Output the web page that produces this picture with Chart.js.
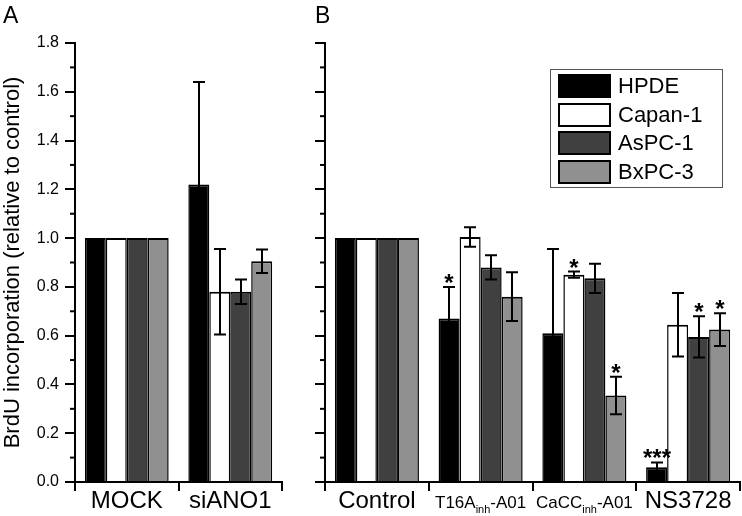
<!DOCTYPE html>
<html>
<head>
<meta charset="utf-8">
<script src="https://cdn.jsdelivr.net/npm/chart.js@4.4.0/dist/chart.umd.min.js"></script>
<style>
body{margin:0;background:#fff;font-family:'Liberation Sans',Arial,sans-serif}
#wrap{position:relative;width:742px;height:516px;overflow:hidden;background:#fff}
#cvA{position:absolute;left:0;top:0}
#cvB{position:absolute;left:300px;top:0}
.legend{position:absolute;left:550px;top:69px;width:173px;height:119px;border:1px solid #555;box-sizing:border-box}
.legend .row{position:absolute;left:7px;height:24px;display:flex;align-items:center}
.legend .sw{width:53px;height:24px;border:2px solid #000;box-sizing:border-box}
.legend .lb{margin-left:7px;font-size:22px;color:#000;line-height:24px}
</style>
</head>
<body>
<div id="wrap">
  <canvas id="cvA" width="300" height="516"></canvas>
  <canvas id="cvB" width="442" height="516"></canvas>
  <div class="legend" id="legend"></div>
</div>
<script>
/* ---------- data ---------- */
const seriesNames=['HPDE','Capan-1','AsPC-1','BxPC-3'];
const seriesColors=['#000000','#ffffff','#404040','#909090'];
const categoriesA=['MOCK','siANO1'];
const categoriesB=['Control','T16A{inh}-A01','CaCC{inh}-A01','NS3728'];

// panel A (value, +/- error)
const hpdeA=[1.00,1.22],  hpdeErrA=[0,0.42];
const capanA=[1.00,0.78], capanErrA=[0,0.175];
const aspcA=[1.00,0.78],  aspcErrA=[0,0.05];
const bxpcA=[1.00,0.905], bxpcErrA=[0,0.048];

// panel B
const hpdeB=[1.00,0.67,0.61,0.06],    hpdeErrB=[0,0.13,0.345,0.02],   hpdeStarB=['','*','','***'];
const capanB=[1.00,1.005,0.85,0.645], capanErrB=[0,0.04,0.013,0.13],  capanStarB=['','','*',''];
const aspcB=[1.00,0.88,0.835,0.595],  aspcErrB=[0,0.05,0.06,0.085],   aspcStarB=['','','','*'];
const bxpcB=[1.00,0.76,0.355,0.625],  bxpcErrB=[0,0.10,0.077,0.067],  bxpcStarB=['','','*','*'];

const yMin=0, yMax=1.8, yMajor=0.2, yMinor=0.1;
const FONT="'Liberation Sans', Arial, sans-serif";

/* ---------- plugins ---------- */
const errorBars={
  id:'errorBars',
  afterDatasetsDraw(chart,args,opts){
    const ctx=chart.ctx, ys=chart.scales.y;
    ctx.save();
    ctx.strokeStyle='#000';ctx.lineWidth=2;ctx.fillStyle='#000';
    chart.data.datasets.forEach((ds,i)=>{
      const meta=chart.getDatasetMeta(i);
      meta.data.forEach((bar,j)=>{
        const v=ds.data[j], e=opts.errors[i][j];
        const x=Math.round(bar.x);
        const yt=ys.getPixelForValue(v+e), yb=ys.getPixelForValue(v-e);
        if(e>0){
          ctx.beginPath();
          ctx.moveTo(x,yb);ctx.lineTo(x,yt);
          ctx.moveTo(x-6,yt);ctx.lineTo(x+6,yt);
          ctx.moveTo(x-6,yb);ctx.lineTo(x+6,yb);
          ctx.stroke();
        }
        const s=opts.stars&&opts.stars[i][j];
        if(s){
          ctx.font='bold 24px '+FONT;ctx.textAlign='center';ctx.textBaseline='alphabetic';
          ctx.fillText(s,x,yt+4);
        }
      });
    });
    ctx.restore();
  }
};
const minorTicks={
  id:'minorTicks',
  afterDraw(chart){
    const ctx=chart.ctx, ys=chart.scales.y;
    ctx.save();ctx.strokeStyle='#000';ctx.lineWidth=2;
    for(let v=yMin+yMinor;v<yMax;v+=yMajor){
      const y=ys.getPixelForValue(v);
      ctx.beginPath();ctx.moveTo(ys.right-5,y);ctx.lineTo(ys.right,y);ctx.stroke();
    }
    ctx.restore();
  }
};
const xLabels={
  id:'xLabels',
  afterDraw(chart,args,opts){
    const ctx=chart.ctx, xs=chart.scales.x;
    ctx.save();ctx.fillStyle='#000';ctx.textBaseline='alphabetic';ctx.textAlign='left';
    chart.data.labels.forEach((lab,i)=>{
      const parts=lab.split(/(\{[^}]*\})/).filter(p=>p).map(p=>p[0]==='{'?{t:p.slice(1,-1),sub:true}:{t:p,sub:false});
      const hasSub=parts.some(p=>p.sub);
      const big=hasSub?opts.smallSize:opts.size, small=opts.subSize;
      let w=0;
      parts.forEach(p=>{ctx.font=(p.sub?small:big)+'px '+FONT;p.w=ctx.measureText(p.t).width;w+=p.w;});
      let x=xs.getPixelForValue(i)-w/2;
      parts.forEach(p=>{
        ctx.font=(p.sub?small:big)+'px '+FONT;
        ctx.fillText(p.t,x,opts.y+(p.sub?5:0));
        x+=p.w;
      });
    });
    ctx.restore();
  }
};
const panelLabel={
  id:'panelLabel',
  afterDraw(chart,args,opts){
    const ctx=chart.ctx;
    ctx.save();ctx.fillStyle='#000';ctx.font='23px '+FONT;ctx.textBaseline='alphabetic';
    ctx.fillText(opts.text,opts.x,opts.y);
    ctx.restore();
  }
};

/* ---------- chart builder ---------- */
function makeDatasets(values){
  return values.map((d,i)=>({
    label:seriesNames[i],data:d,backgroundColor:seriesColors[i],borderColor:'#000',
    borderWidth:{top:2,left:1.5,right:1.5,bottom:0},borderSkipped:false,
    categoryPercentage:0.81,barPercentage:1
  }));
}
function makeChart(id,labels,values,errors,stars,o){
  return new Chart(document.getElementById(id),{
    type:'bar',
    data:{labels,datasets:makeDatasets(values)},
    plugins:[errorBars,minorTicks,xLabels,panelLabel],
    options:{
      responsive:false,animation:false,
      layout:{padding:{top:43,right:o.padRight,left:0,bottom:0}},
      plugins:{
        legend:{display:false},tooltip:{enabled:false},
        errorBars:{errors,stars},
        xLabels:{y:508,size:24,smallSize:17,subSize:11},
        panelLabel:o.panel
      },
      scales:{
        x:{
          grid:{offset:true,drawOnChartArea:false,drawTicks:true,tickLength:9,color:'#000',lineWidth:2},
          border:{display:true,color:'#000',width:2},
          ticks:{display:false},
          afterFit(s){s.height=34;}
        },
        y:{
          min:yMin,max:yMax,
          ticks:{display:o.showTicks,stepSize:yMajor,callback:v=>v.toFixed(1),color:'#000',font:{size:16,family:FONT},padding:6},
          grid:{drawOnChartArea:false,tickLength:10,color:'#000',lineWidth:2},
          border:{display:true,color:'#000',width:2},
          title:{display:o.showTicks,text:'BrdU incorporation (relative to control)',color:'#000',font:{size:22,family:FONT},padding:0},
          afterFit(s){s.width=o.axisLeft;}
        }
      }
    }
  });
}

makeChart('cvA',categoriesA,[hpdeA,capanA,aspcA,bxpcA],[hpdeErrA,capanErrA,aspcErrA,bxpcErrA],null,
  {padRight:18,axisLeft:75,showTicks:true,panel:{text:'A',x:3,y:23}});
makeChart('cvB',categoriesB,[hpdeB,capanB,aspcB,bxpcB],[hpdeErrB,capanErrB,aspcErrB,bxpcErrB],
  [hpdeStarB,capanStarB,aspcStarB,bxpcStarB],
  {padRight:2,axisLeft:25,showTicks:false,panel:{text:'B',x:15,y:23}});

/* ---------- legend ---------- */
const lg=document.getElementById('legend');
seriesNames.forEach((n,i)=>{
  const r=document.createElement('div');r.className='row';r.style.top=(4+i*28.5)+'px';
  r.innerHTML=`<span class="sw" style="background:${seriesColors[i]}"></span><span class="lb">${n}</span>`;
  lg.appendChild(r);
});
</script>
</body>
</html>
